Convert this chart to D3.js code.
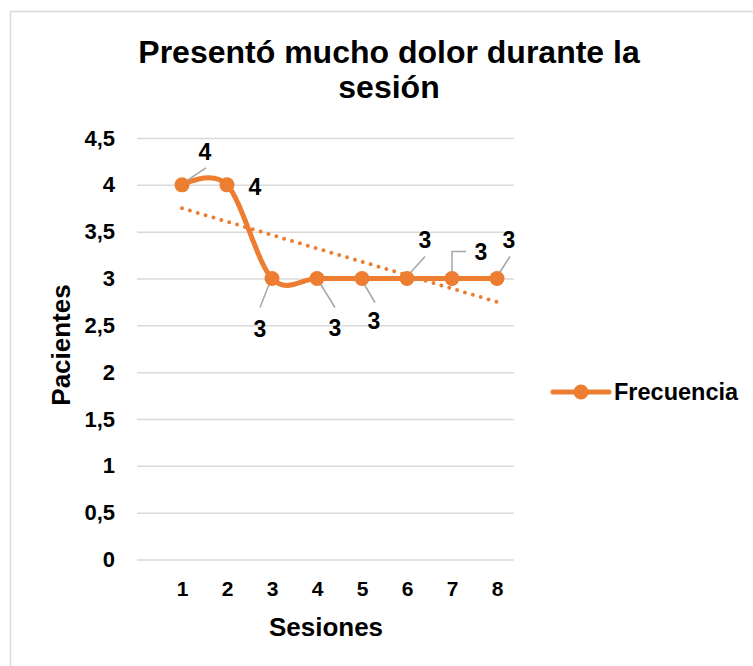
<!DOCTYPE html>
<html>
<head>
<meta charset="utf-8">
<script src="https://cdn.jsdelivr.net/npm/d3@7"></script>
<style>
  html, body { margin: 0; padding: 0; background: #fff; }
  svg { display: block; font-family: "Liberation Sans", Arial, sans-serif; font-weight: bold; }
</style>
</head>
<body>
<svg id="chart" width="753" height="666"></svg>
<script>
// Sessions and number of patients reporting strong pain
const sessions = [1, 2, 3, 4, 5, 6, 7, 8];
const patients = [4, 4, 3, 3, 3, 3, 3, 3];
const yTicks = [0, 0.5, 1, 1.5, 2, 2.5, 3, 3.5, 4, 4.5];
const titleLines = ["Presentó mucho dolor durante la", "sesión"];
const seriesName = "Frecuencia";
const xTitle = "Sesiones";
const yTitle = "Pacientes";

// Where each data label sits relative to its point, and how its leader line runs
const labelLayout = [
  { dx: 23, dy: -33, leader: [[0, -1], [24, -17]] },
  { dx: 28, dy: 2, leader: null },
  { dx: -12, dy: 50, leader: [[-1, 1], [-12, 29]] },
  { dx: 18, dy: 49, leader: [[0, 0], [18, 29]] },
  { dx: 12, dy: 42, leader: [[0, 2], [13, 24]] },
  { dx: 18, dy: -39, leader: [[0, -2], [18, -22]] },
  { dx: 29, dy: -27, leader: [[0, -2], [0, -27], [14, -27]] },
  { dx: 12, dy: -39, leader: [[0, -2], [13, -22]] }
];

const orange = "#ED7D31";
const grid = "#D9D9D9";
const svg = d3.select("#chart");

// outer chart frame
svg.append("rect")
  .attr("x", 10.5).attr("y", 11.5)
  .attr("width", 800).attr("height", 700)
  .attr("fill", "none").attr("stroke", grid).attr("stroke-width", 1.5);

const plot = { left: 137, right: 514, top: 138, bottom: 559.5 };

const x = d3.scalePoint().domain(sessions).range([182, 497]);
const y = d3.scaleLinear().domain([0, 4.5]).range([plot.bottom, plot.top]);

// title
svg.append("text")
  .attr("x", 389).attr("text-anchor", "middle")
  .attr("font-size", 32)
  .selectAll("tspan").data(titleLines).join("tspan")
  .attr("x", 389)
  .attr("y", (d, i) => 63 + i * 35)
  .text(d => d);

// horizontal gridlines + value axis labels
const yAxis = d3.axisLeft(y).tickValues(yTicks)
  .tickSize(-(plot.right - plot.left))
  .tickPadding(22)
  .tickFormat(d => String(d).replace(".", ","));
const gy = svg.append("g").attr("transform", `translate(${plot.left},0)`).call(yAxis);
gy.select(".domain").remove();
gy.selectAll(".tick line").attr("stroke", grid).attr("stroke-width", 1.5);
gy.selectAll(".tick text")
  .attr("fill", "#000").attr("font-size", 22).attr("font-weight", "bold")
  .attr("font-family", "Liberation Sans, Arial, sans-serif");

// category axis labels
const xAxis = d3.axisBottom(x).tickSize(0).tickPadding(0);
const gx = svg.append("g").attr("transform", `translate(0,${plot.bottom})`).call(xAxis);
gx.select(".domain").remove();
gx.selectAll(".tick text")
  .attr("fill", "#000").attr("font-size", 21).attr("font-weight", "bold")
  .attr("font-family", "Liberation Sans, Arial, sans-serif")
  .attr("dy", null).attr("y", 36);

// axis titles
svg.append("text")
  .attr("x", 326).attr("y", 636)
  .attr("text-anchor", "middle").attr("font-size", 26)
  .text(xTitle);
svg.append("text")
  .attr("transform", "translate(70,345) rotate(-90)")
  .attr("text-anchor", "middle").attr("font-size", 26)
  .text(yTitle);

// linear trend line
const n = sessions.length;
const mx = d3.mean(sessions), my = d3.mean(patients);
const slope = d3.sum(sessions, (s, i) => (s - mx) * (patients[i] - my)) /
              d3.sum(sessions, s => (s - mx) ** 2);
const icpt = my - slope * mx;
const ends = [sessions[0], sessions[n - 1]];
svg.append("path")
  .datum(ends)
  .attr("d", d3.line().x(d => x(d)).y(d => y(icpt + slope * d)))
  .attr("fill", "none").attr("stroke", orange)
  .attr("stroke-width", 4).attr("stroke-linecap", "round")
  .attr("stroke-dasharray", "0 8.2");

// smoothed series line
const pts = sessions.map((s, i) => [x(s), y(patients[i])]);
svg.append("path")
  .datum(pts)
  .attr("d", d3.line().curve(d3.curveCardinal))
  .attr("fill", "none").attr("stroke", orange)
  .attr("stroke-width", 5).attr("stroke-linejoin", "round").attr("stroke-linecap", "round");

// leader lines
svg.append("g").selectAll("path")
  .data(pts.map((p, i) => ({ p, l: labelLayout[i] })).filter(d => d.l.leader))
  .join("path")
  .attr("d", d => d3.line()(d.l.leader.map(o => [d.p[0] + o[0], d.p[1] + o[1]])))
  .attr("fill", "none").attr("stroke", "#A6A6A6").attr("stroke-width", 1.5);

// markers
svg.append("g").selectAll("circle")
  .data(pts).join("circle")
  .attr("cx", d => d[0]).attr("cy", d => d[1]).attr("r", 7.5)
  .attr("fill", orange);

// data labels
svg.append("g").selectAll("text")
  .data(pts).join("text")
  .attr("x", (d, i) => d[0] + labelLayout[i].dx)
  .attr("y", (d, i) => d[1] + labelLayout[i].dy)
  .attr("dy", "0.36em")
  .attr("text-anchor", "middle").attr("font-size", 23)
  .text((d, i) => patients[i]);

// legend
const lg = svg.append("g").attr("transform", "translate(553,392)");
lg.append("line").attr("x1", 0).attr("x2", 56)
  .attr("stroke", orange).attr("stroke-width", 5).attr("stroke-linecap", "round");
lg.append("circle").attr("cx", 28).attr("r", 7.5).attr("fill", orange);
lg.append("text").attr("x", 61).attr("y", 8).attr("font-size", 23.5).text(seriesName);
</script>
</body>
</html>
